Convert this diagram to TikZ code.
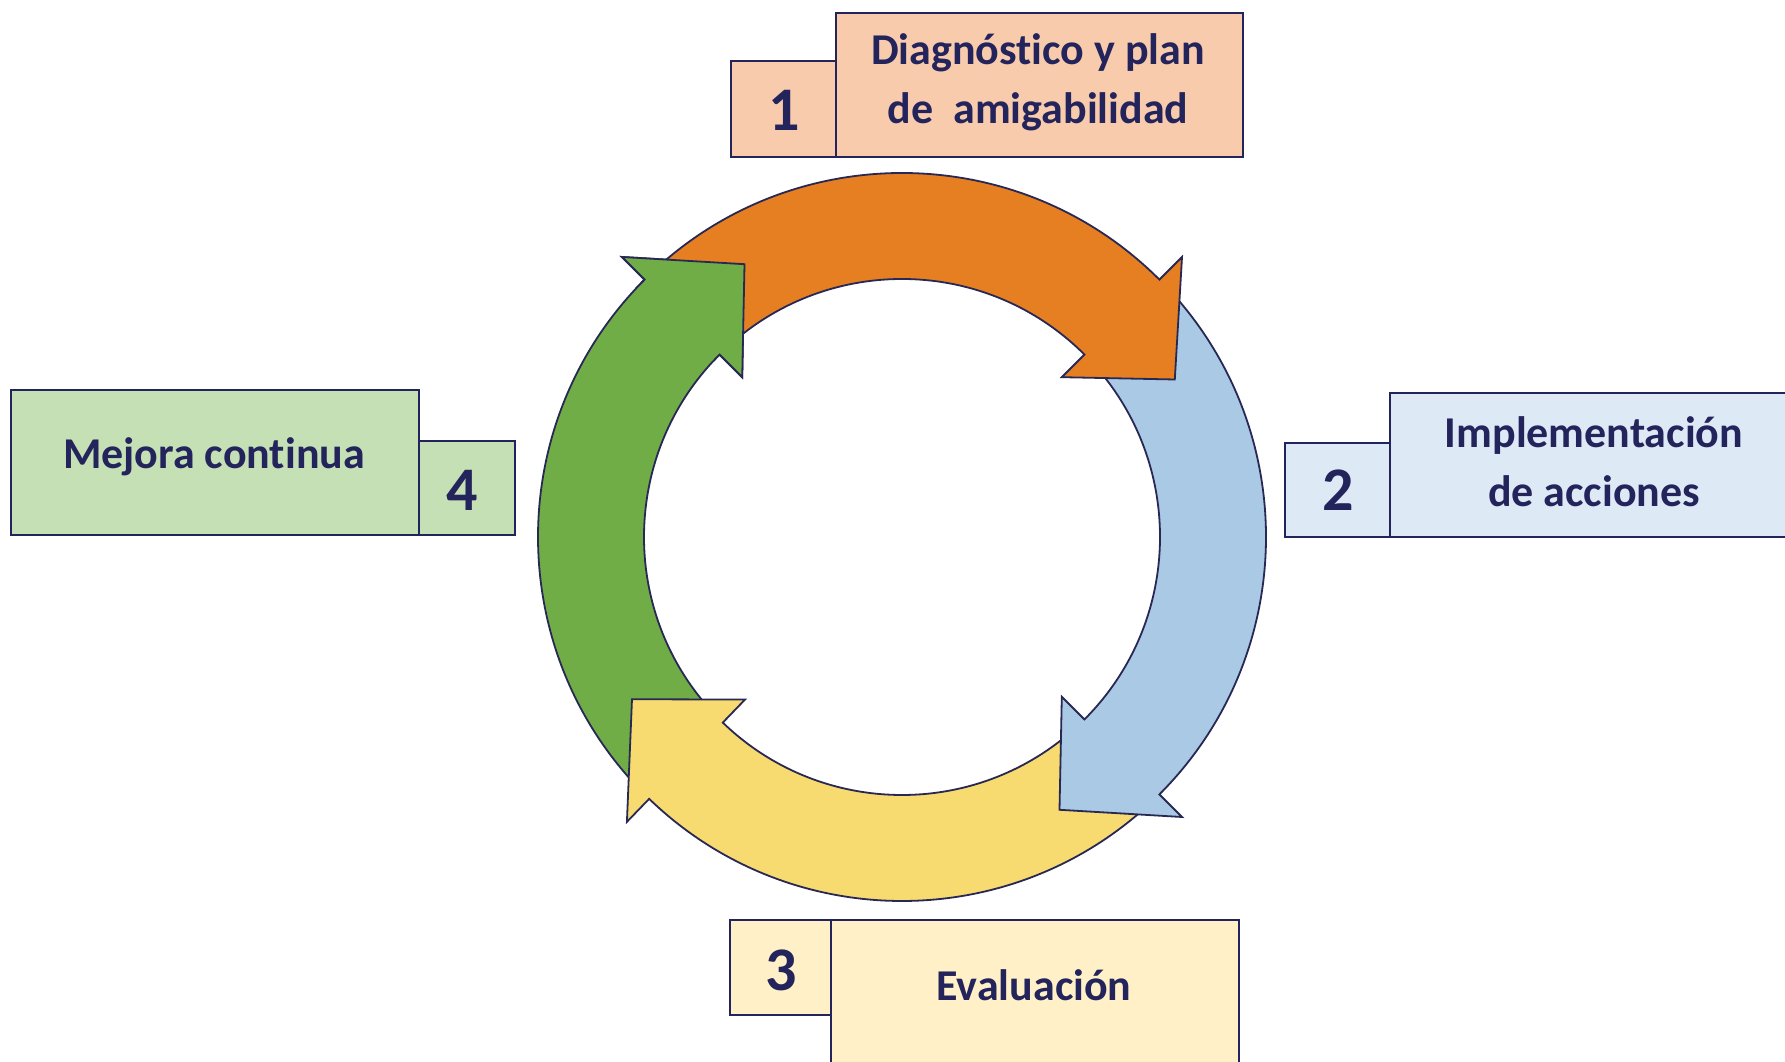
\documentclass[tikz,border=0pt]{standalone}
\usepackage{fontspec}
\setmainfont{Carlito}[Ligatures={NoCommon}]
\definecolor{navy}{RGB}{36,36,92}
\definecolor{edgec}{RGB}{40,40,85}
\definecolor{orangeA}{RGB}{230,126,34}
\definecolor{blueA}{RGB}{169,201,228}
\definecolor{yellowA}{RGB}{247,218,112}
\definecolor{greenA}{RGB}{112,173,71}
\definecolor{boxO}{RGB}{248,203,173}
\definecolor{boxB}{RGB}{221,234,246}
\definecolor{boxY}{RGB}{255,240,200}
\definecolor{boxG}{RGB}{197,224,180}
\tikzset{
  boxstyle/.style={draw=navy, line width=2.5pt, inner sep=0pt, rectangle},
  labeltext/.style={text=navy, inner sep=0pt, align=center, font=\fontsize{44}{59}\selectfont\bfseries},
  numtext/.style={text=navy, inner sep=0pt, font=\fontsize{62}{70}\selectfont\bfseries},
  arrowline/.style={draw=edgec, line width=1.8pt, line join=miter},
}
\newcommand{\cycarrow}[2]{%
  \filldraw[arrowline, fill=#2]
    ({#1+88}:364pt) arc[start angle={#1+88}, end angle={#1}, radius=364pt]
    -- (#1:396pt) -- ({#1-15}:315pt) -- (#1:226pt) -- (#1:258pt)
    arc[start angle={#1}, end angle={#1+88}, radius=258pt];
}
\begin{document}
\begin{tikzpicture}[x=1pt,y=1pt]
\useasboundingbox (0,0) rectangle (1785,1062);
\clip (0,0) rectangle (1785,1062);
\fill[white] (0,0) rectangle (1785,1062);

% cycle arrows
\coordinate (c) at (902,525);
\begin{scope}[shift={(c)}]
  \cycarrow{135}{greenA}
  \cycarrow{-134}{yellowA}
  \cycarrow{-45}{blueA}
  \cycarrow{45}{orangeA}
  % green head on top of orange tail
  \filldraw[arrowline, fill=greenA]
    (137:364pt) arc[start angle=137, end angle=135, radius=364pt]
    -- (135:396pt) -- (120:315pt) -- (135:226pt) -- (135:258pt)
    arc[start angle=135, end angle=137, radius=258pt];
\end{scope}

% box 1
\node[boxstyle, fill=boxO, minimum width=407pt, minimum height=144pt] (b1) at (1039.5,977) {};
\node[boxstyle, fill=boxO, minimum width=105pt, minimum height=96pt] (n1) at (783.5,953) {};
\node[labeltext] (t1) at (1038,980) {Diagnóstico y plan\\de\ \ amigabilidad};
\node[numtext] (k1) at (784,952) {1};

% box 2
\node[boxstyle, fill=boxB, minimum width=420pt, minimum height=144pt] (b2) at (1600,597) {};
\node[boxstyle, fill=boxB, minimum width=105pt, minimum height=94pt] (n2) at (1337.5,572) {};
\node[labeltext] (t2) at (1594,600) {Implementación\\de acciones};
\node[numtext] (k2) at (1338,572) {2};

% box 3
\node[boxstyle, fill=boxY, minimum width=408pt, minimum height=170pt] (b3) at (1035,57) {};
\node[boxstyle, fill=boxY, minimum width=101pt, minimum height=95pt] (n3) at (780.5,94.5) {};
\node[labeltext] (t3) at (1034,77) {Evaluación};
\node[numtext] (k3) at (781,92) {3};

% box 4
\node[boxstyle, fill=boxG, minimum width=408pt, minimum height=145pt] (b4) at (215,599.5) {};
\node[boxstyle, fill=boxG, minimum width=96pt, minimum height=94pt] (n4) at (467,574) {};
\node[labeltext] (t4) at (214,605) {Mejora continua};
\node[numtext] (k4) at (462,572) {4};
\end{tikzpicture}
\end{document}
